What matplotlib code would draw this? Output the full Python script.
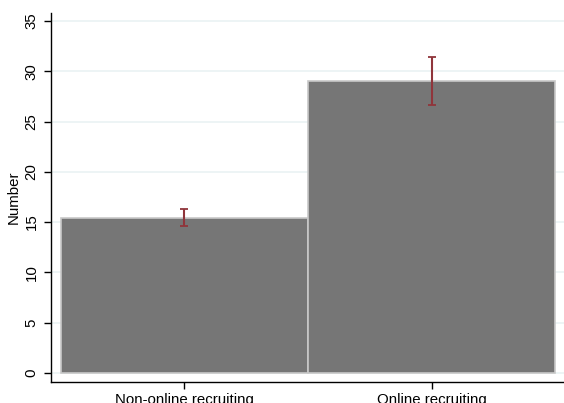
import matplotlib.pyplot as plt

plt.rcParams["font.family"] = ["Liberation Sans", "DejaVu Sans"]

# ----------------------------------------------------------------------------

groups = ["Non-online recruiting", "Online recruiting"]
means = [15.4, 29.0]
ci_low = [14.6, 26.6]
ci_high = [16.3, 31.4]
yticks = [0, 5, 10, 15, 20, 25, 30, 35]

# ----------------------------------------------------------------------------

fig = plt.figure(figsize=(5.64, 4.03), dpi=100)
ax = fig.add_axes([0.0904, 0.052, 0.9096, 0.916])

pos = list(range(len(groups)))
ax.bar(pos, means, width=1.0, color="#767676", edgecolor="#c8c8c8",
       linewidth=1.2, zorder=2)

err_lo = [m - l for m, l in zip(means, ci_low)]
err_hi = [h - m for m, h in zip(means, ci_high)]
ax.errorbar(pos, means, yerr=[err_lo, err_hi], fmt="none", ecolor="#90353b",
            elinewidth=1.5, capsize=3, capthick=1.3, zorder=3)

ax.set_xlim(-0.54, 1.535)
ax.set_ylim(-0.9, 35.8)
ax.set_yticks(yticks)
ax.set_yticklabels([str(t) for t in yticks], rotation=90, va="center")
ax.set_xticks(pos)
ax.set_xticklabels(groups)
ax.tick_params(axis="both", labelsize=10.8, length=5, width=1, color="black")
ax.tick_params(axis="y", pad=4)
ax.tick_params(axis="x", pad=3)

ax.yaxis.grid(True, color="#eaf2f3", linewidth=1.2, zorder=0)
ax.set_axisbelow(True)
ax.set_ylabel("Number", fontsize=10.8, labelpad=3)

for s in ["top", "right"]:
    ax.spines[s].set_visible(False)
ax.spines["left"].set_linewidth(1)
ax.spines["bottom"].set_linewidth(1)

fig.savefig("out.png", dpi=100)
